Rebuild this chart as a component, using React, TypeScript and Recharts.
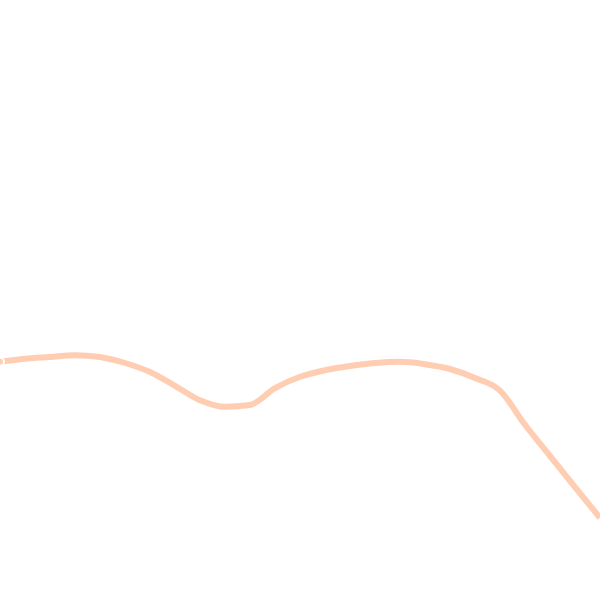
import React from "react";
import { LineChart, Line, XAxis, YAxis } from "recharts";

const categories = [
  "0", "1", "2", "3", "4", "5", "6", "7", "8", "9", "10", "11", "12",
  "13", "14", "15", "16", "17", "18", "19", "20", "21", "22", "23", "24",
];
const values = [
  39.7, 40.2, 40.5, 40.8, 40.5, 39.5, 38.0, 35.7, 33.3, 32.2, 32.5, 35.3, 37.2,
  38.3, 39.0, 39.5, 39.7, 39.3, 38.5, 37.0, 34.9, 29.2, 24.0, 18.8, 13.7,
];

const data = categories.map((c, i) => ({ name: c, value: values[i] }));

export default function App() {
  return (
    <div style={{ position: "absolute", left: 0, top: 0, width: 600, height: 600, background: "#fff" }}>
      <LineChart width={600} height={600} data={data} margin={{ top: 0, right: 0, bottom: 0, left: 0 }}>
        <XAxis dataKey="name" hide />
        <YAxis hide domain={[0, 100]} />
        <Line
          type="monotone"
          dataKey="value"
          stroke="#FFCDB2"
          strokeWidth={6}
          dot={false}
          isAnimationActive={false}
        />
      </LineChart>
    </div>
  );
}
